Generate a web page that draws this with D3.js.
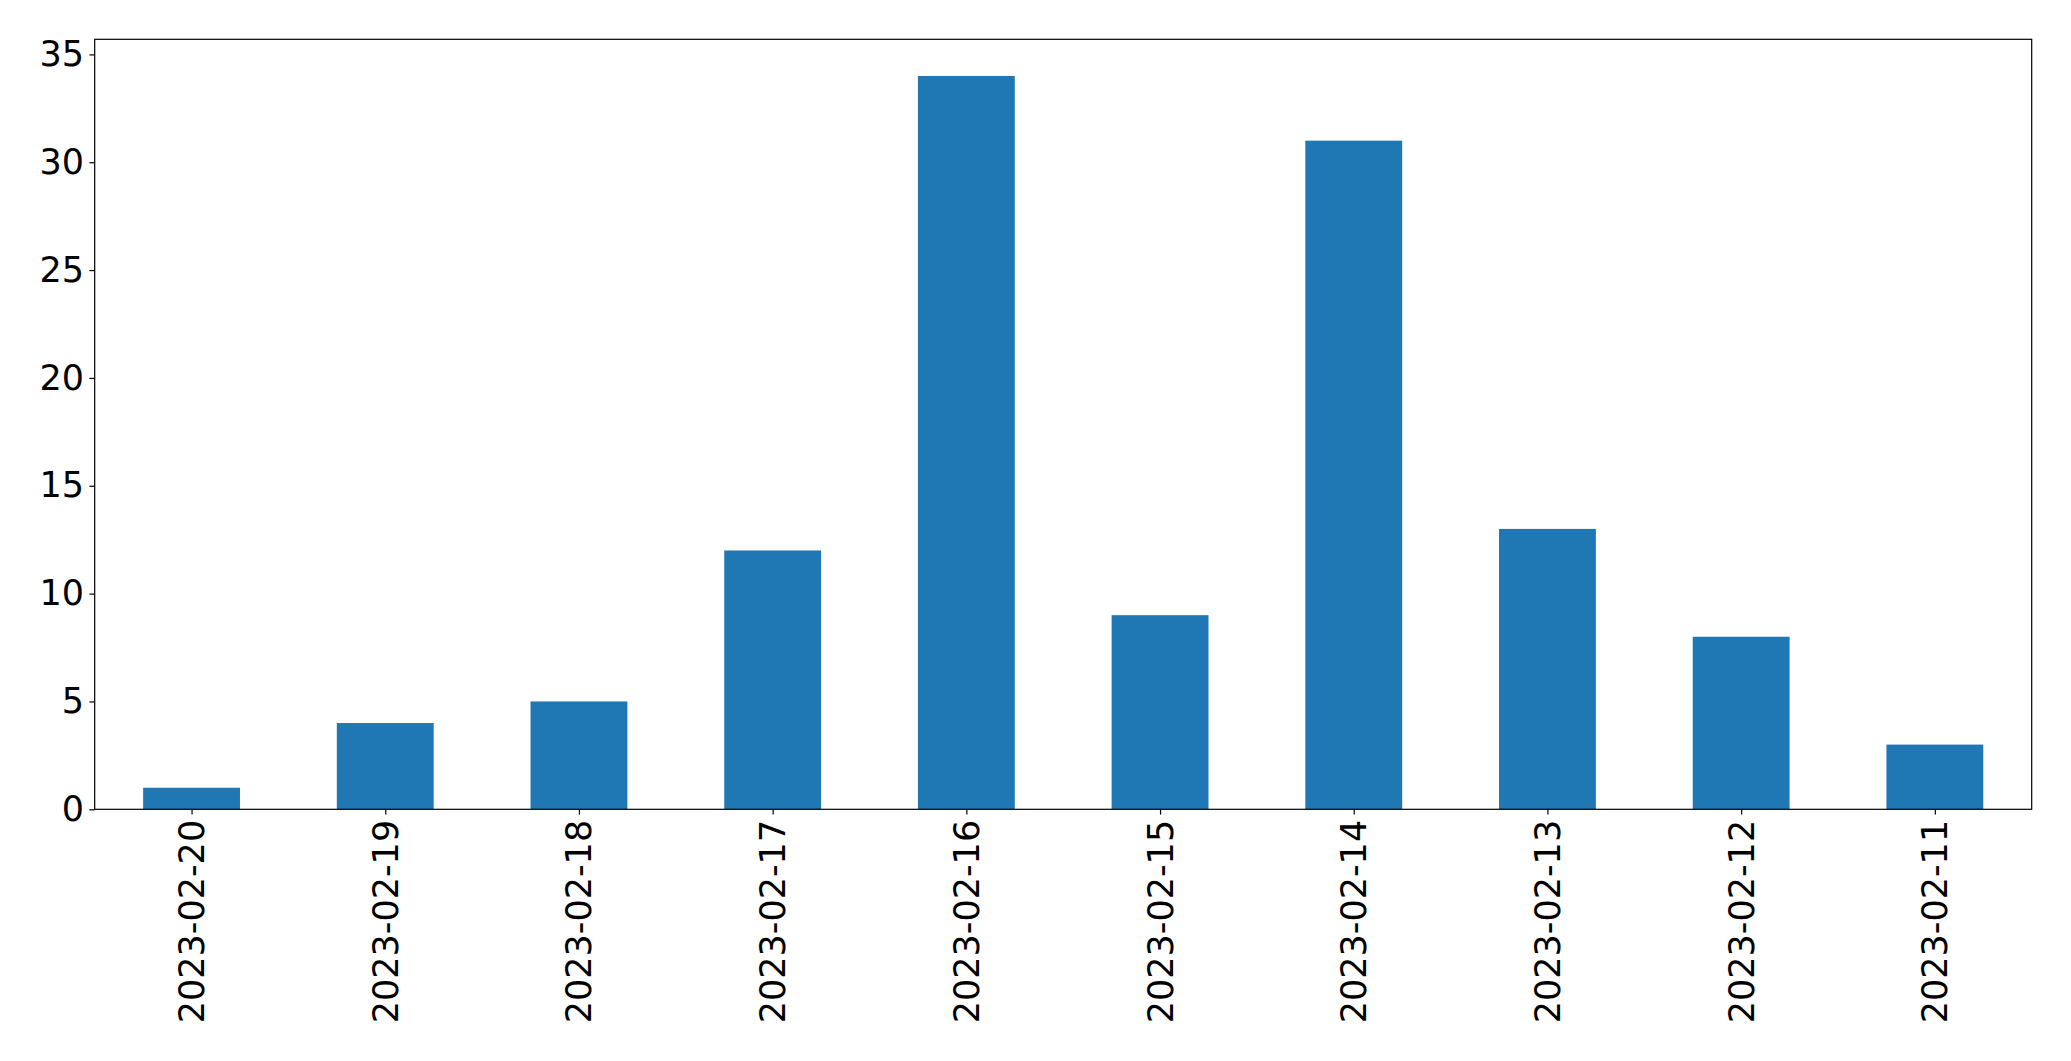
<!DOCTYPE html>
<html><head><meta charset="utf-8">
<script src="https://cdn.jsdelivr.net/npm/d3@7"></script>
<style>html,body{margin:0;padding:0;background:#fff;}svg{display:block;}</style>
</head><body>
<script>
const categories = ["2023-02-20","2023-02-19","2023-02-18","2023-02-17","2023-02-16","2023-02-15","2023-02-14","2023-02-13","2023-02-12","2023-02-11"];
const values = [1,4,5,12,34,9,31,13,8,3];
const yTicks = [0,5,10,15,20,25,30,35];

const W = 2071, H = 1061;
const m = {left: 94.7, right: 2031.7, top: 39.3, bottom: 809.3};
const svg = d3.select("body").append("svg").attr("width", W).attr("height", H);

const x = d3.scaleLinear().domain([-0.5, categories.length - 0.5]).range([m.left, m.right]);
const y = d3.scaleLinear().domain([0, d3.max(values) * 1.05]).range([m.bottom, m.top]);
const bw = 0.5;

svg.append("g").selectAll("rect").data(values).join("rect")
  .attr("x", (d, i) => x(i - bw / 2))
  .attr("width", (d, i) => x(i + bw / 2) - x(i - bw / 2))
  .attr("y", d => y(d))
  .attr("height", d => y(0) - y(d))
  .attr("fill", "#1f77b4");

const font = "DejaVu Sans";
const fs = 35;
const tickLen = 5.3, pad = 5.25;

const yAxis = svg.append("g").attr("transform", `translate(${m.left},0)`)
  .call(d3.axisLeft(y).tickValues(yTicks).tickSize(tickLen).tickPadding(pad).tickFormat(d3.format("d")));
yAxis.select(".domain").remove();
yAxis.selectAll("line").attr("stroke", "#000").attr("stroke-width", 1.2);
yAxis.selectAll("text").attr("font-family", font).attr("font-size", fs).attr("fill", "#000");

const xAxis = svg.append("g").attr("transform", `translate(0,${m.bottom})`)
  .call(d3.axisBottom(x).tickValues(d3.range(categories.length)).tickSize(tickLen).tickPadding(pad).tickFormat(i => categories[i]));
xAxis.select(".domain").remove();
xAxis.selectAll("line").attr("stroke", "#000").attr("stroke-width", 1.2);
xAxis.selectAll("text")
  .attr("font-family", font).attr("font-size", fs).attr("fill", "#000")
  .attr("text-anchor", "end")
  .attr("dy", null)
  .attr("dominant-baseline", "central")
  .attr("x", 0).attr("y", 0)
  .attr("transform", `translate(0,${tickLen + pad}) rotate(-90)`);

svg.append("rect")
  .attr("x", m.left).attr("y", m.top)
  .attr("width", m.right - m.left).attr("height", m.bottom - m.top)
  .attr("fill", "none").attr("stroke", "#000").attr("stroke-width", 1.2);
</script>
</body></html>
